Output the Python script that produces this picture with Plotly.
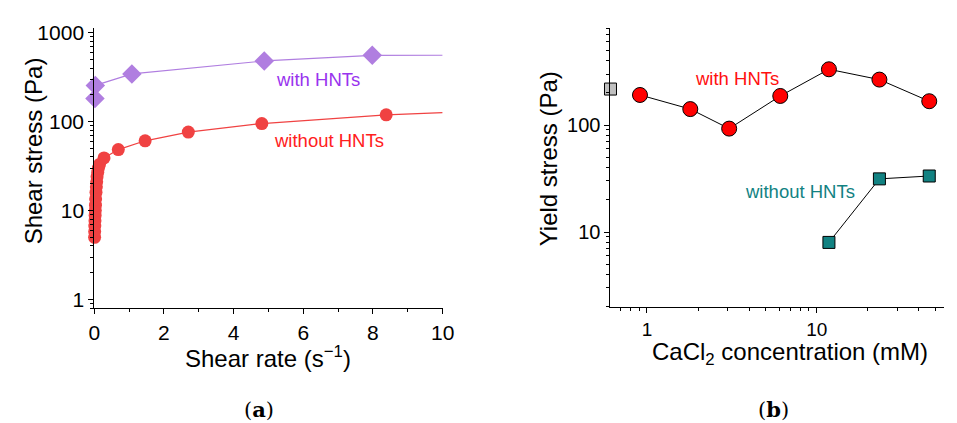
import plotly.graph_objects as go

# ---- Panel (a) data ----
rate_without = [0.01, 0.012, 0.015, 0.02, 0.025, 0.03, 0.035, 0.04, 0.05, 0.06, 0.07, 0.08, 0.1, 0.12, 0.15,
                0.28, 0.69, 1.46, 2.70, 4.81, 8.38]
stress_without = [5.0, 5.8, 6.7, 7.7, 8.8, 10, 11.5, 13.5, 16, 18.5, 21, 24, 27, 30, 33,
                  39, 48.4, 60.8, 76.2, 95, 119]
fit_without_x = [0.01, 0.05, 0.1, 0.15, 0.28, 0.69, 1.46, 2.70, 4.81, 8.38, 10]
fit_without_y = [5.0, 16, 27, 33, 39, 48.4, 60.8, 76.2, 95, 119, 126]

rate_with = [0.02, 0.03, 1.08, 4.88, 7.98]
stress_with = [182, 255, 343, 480, 555]
fit_with_x = [0.03, 1.08, 4.88, 7.98, 10]
fit_with_y = [255, 343, 480, 555, 556]

# ---- Panel (b) data ----
cacl2_with = [0.91, 1.8, 3.05, 6.1, 11.8, 23.4, 46]
yield_with = [191, 141, 92.6, 187, 332, 266, 167]
cacl2_without = [11.8, 23.4, 46]
yield_without = [8.0, 31.4, 33.4]
cacl2_zero = [0.61]
yield_zero = [217]

RED = "#f04242"
PURPLE = "#b07ee0"
TEAL = "#128282"
FONT = "Liberation Sans, Arial, sans-serif"

fig = go.Figure()

# Panel (a)
fig.add_trace(go.Scatter(x=fit_with_x, y=fit_with_y, mode="lines",
                         line=dict(color=PURPLE, width=1.2), xaxis="x", yaxis="y", showlegend=False))
fig.add_trace(go.Scatter(x=rate_with, y=stress_with, mode="markers",
                         marker=dict(symbol="diamond", size=15, color=PURPLE),
                         xaxis="x", yaxis="y", showlegend=False, cliponaxis=False))
fig.add_trace(go.Scatter(x=fit_without_x, y=fit_without_y, mode="lines",
                         line=dict(color=RED, width=1.2), xaxis="x", yaxis="y", showlegend=False))
fig.add_trace(go.Scatter(x=rate_without, y=stress_without, mode="markers",
                         marker=dict(symbol="circle", size=13, color=RED),
                         xaxis="x", yaxis="y", showlegend=False, cliponaxis=False))

# Panel (b)
fig.add_trace(go.Scatter(x=cacl2_with, y=yield_with, mode="lines+markers",
                         line=dict(color="black", width=1),
                         marker=dict(symbol="circle", size=15, color="#ff0000",
                                     line=dict(color="black", width=1)),
                         xaxis="x2", yaxis="y2", showlegend=False, cliponaxis=False))
fig.add_trace(go.Scatter(x=cacl2_without, y=yield_without, mode="lines+markers",
                         line=dict(color="black", width=1),
                         marker=dict(symbol="square", size=12, color=TEAL,
                                     line=dict(color="black", width=1)),
                         xaxis="x2", yaxis="y2", showlegend=False, cliponaxis=False))
fig.add_trace(go.Scatter(x=cacl2_zero, y=yield_zero, mode="markers",
                         marker=dict(symbol="square", size=12, color="#c0c0c0",
                                     line=dict(color="black", width=1)),
                         xaxis="x2", yaxis="y2", showlegend=False, cliponaxis=False))


def axis_common(size):
    return dict(showline=True, linecolor="black", linewidth=1, showgrid=False, zeroline=False,
                ticks="outside", tickcolor="black", ticklen=5, tickwidth=1,
                tickfont=dict(family=FONT, size=size, color="black"), mirror=False)


minor_log_a = [v * d for d in (1, 10, 100) for v in range(2, 10)] + [0.8, 0.9]
minor_log_b_y = [v * d for d in (1, 10, 100) for v in range(2, 10)]
minor_log_b_x = [0.7, 0.8, 0.9] + [v * d for d in (1, 10) for v in range(2, 10)]

fig.update_layout(
    width=957, height=423, margin=dict(l=0, r=0, t=0, b=0),
    paper_bgcolor="white", plot_bgcolor="white",
    xaxis=dict(domain=[0.094, 0.465], anchor="y", range=[0, 10], tickvals=[0, 2, 4, 6, 8, 10],
               minor=dict(tickvals=[1, 3, 5, 7, 9], ticks="outside", ticklen=3, tickcolor="black"),
               **axis_common(21)),
    yaxis=dict(domain=[0.272, 0.950], anchor="x", type="log", range=[-0.1, 3.055],
               tickvals=[1, 10, 100, 1000], ticktext=["1", "10", "100", "1000"],
               minor=dict(tickvals=minor_log_a, ticks="outside", ticklen=3, tickcolor="black"),
               **axis_common(21)),
    xaxis2=dict(domain=[0.6437, 0.999], anchor="y2", type="log", range=[-0.215, 1.75],
                tickvals=[1, 10], ticktext=["1", "10"],
                minor=dict(tickvals=minor_log_b_x, ticks="outside", ticklen=3, tickcolor="black"),
                **axis_common(19)),
    yaxis2=dict(domain=[0.275, 0.949], anchor="x2", type="log", range=[0.298, 2.906],
                tickvals=[10, 100], ticktext=["10", "100"],
                minor=dict(tickvals=minor_log_b_y, ticks="outside", ticklen=3, tickcolor="black"),
                **axis_common(20)),
)


def label(text, x, y, size, color="black", family=FONT, angle=0, xref="paper", yref="paper"):
    return dict(text=text, x=x, y=y, xref=xref, yref=yref, showarrow=False, textangle=angle,
                xanchor="center", yanchor="middle", font=dict(family=family, size=size, color=color))


ann = [
    label("with HNTs", 6.42, 2.473, 18.5, "#9933ee", xref="x", yref="y"),
    label("without HNTs", 6.73, 1.791, 18.5, "#ff2020", xref="x", yref="y"),
    label("with HNTs", 0.529, 2.439, 18.5, "#ff1010", xref="x2", yref="y2"),
    label("without HNTs", 0.9, 1.378, 18.5, TEAL, xref="x2", yref="y2"),
    label("Shear stress (Pa)", 28 / 957, 1 - 147 / 423, 24, angle=-90),
    label("Shear rate (s<sup>−1</sup>)", 267 / 957, 1 - 358 / 423, 24),
    label("Yield stress (Pa)", 553 / 957, 1 - 155 / 423, 24, angle=-90),
    label("CaCl<sub>2</sub> concentration (mM)", 799 / 957, 1 - 354 / 423, 24),
    label("(<b>a</b>)", 258 / 957, 1 - 411 / 423, 21, family="DejaVu Serif, serif"),
    label("(<b>b</b>)", 782 / 957, 1 - 411 / 423, 21, family="DejaVu Serif, serif"),
]
fig.update_layout(annotations=ann)

fig.write_html("out.html")
